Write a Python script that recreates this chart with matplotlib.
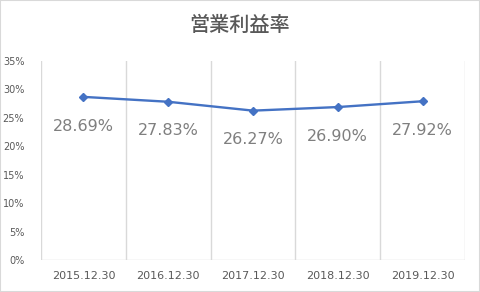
import matplotlib
matplotlib.use("Agg")
import matplotlib.pyplot as plt
from matplotlib.patches import Rectangle

categories = ["2015.12.30", "2016.12.30", "2017.12.30", "2018.12.30", "2019.12.30"]
values = [28.69, 27.83, 26.27, 26.90, 27.92]
yticks = [0, 5, 10, 15, 20, 25, 30, 35]

plt.rcParams['font.family'] = ['Noto Sans CJK JP', 'DejaVu Sans']

fig = plt.figure(figsize=(4.8, 2.92), dpi=100)
ax = fig.add_axes([41/480, 32/292, (465-41)/480, (260-61)/292])

x = list(range(len(categories)))
ax.plot(x, values, color="#4472C4", lw=1.7, marker="D", ms=4.5, zorder=3)
for xi, v in zip(x, values):
    ax.annotate(f"{v:.2f}%", (xi, v), xytext=(0, -21), textcoords="offset points",
                ha="center", va="center", fontsize=11.5, color="#7F7F7F",
                family=['DejaVu Sans'])

ax.set_xlim(-0.5, len(categories) - 0.5)
ax.set_ylim(0, 35)
ax.set_yticks(yticks)
ax.set_yticklabels([f"{t}%" for t in yticks], fontsize=7, color="#595959", family=['DejaVu Sans'])
ax.set_xticks(x)
ax.set_xticklabels(categories, fontsize=8, color="#595959", family=['DejaVu Sans'])
for b in [i - 0.5 for i in range(len(categories) + 1)]:
    ax.axvline(b, color="#D9D9D9", lw=1, zorder=1)
for s in ax.spines.values():
    s.set_visible(False)
ax.axhline(0, color="#D9D9D9", lw=1, zorder=1)
ax.tick_params(length=0, pad=8)
ax.tick_params(axis='y', pad=12)

fig.text(0.5, 1 - 25/292, "営業利益率", ha="center", va="center", fontsize=14.5,
         color="#595959", fontweight="medium")
fig.patches.append(Rectangle((0, 0), 1, 1, transform=fig.transFigure, fill=False,
                             edgecolor="#D9D9D9", lw=1.5))
fig.savefig("out.png", dpi=100)
